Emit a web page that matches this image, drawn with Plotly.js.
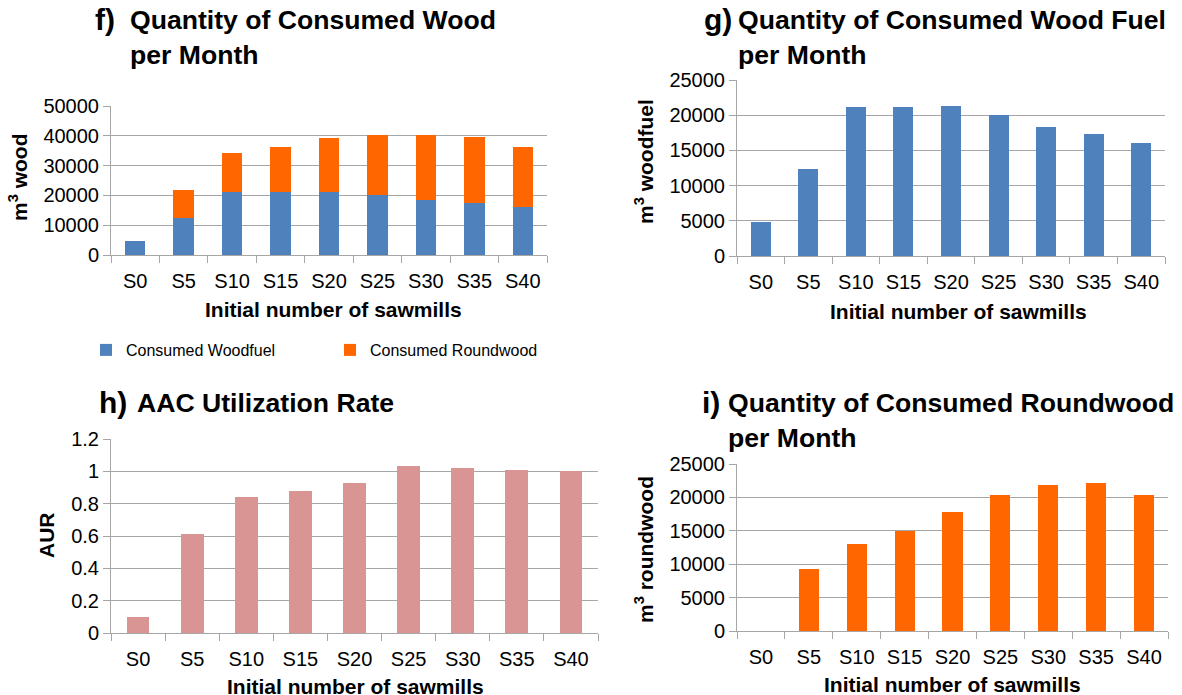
<!DOCTYPE html>
<html>
<head>
<meta charset="utf-8">
<script src="https://cdn.plot.ly/plotly-3.0.1.min.js"></script>
<style>html,body{margin:0;padding:0;background:#fff;}#chart{width:1182px;height:695px;}</style>
</head>
<body>
<div id="chart"></div>
<script>
const categories = ['S0','S5','S10','S15','S20','S25','S30','S35','S40'];
const woodfuel = [4800,12400,21200,21100,21300,20100,18300,17400,16000];
const roundwood = [0,9300,13000,15000,17800,20300,21900,22100,20300];
const aur = [0.10,0.61,0.84,0.88,0.93,1.03,1.02,1.01,1.00];

const W = 1182, H = 695;
const px = v => v / W;
const py = v => (H - v) / H;

const BLUE = '#4F81BD', ORANGE = '#FF6600', PINK = '#D99594';
const GRID = '#A6A6A6';
const FONT = 'Liberation Sans, Arial, sans-serif';
const BW = 0.42;
const TICKSIZE = 20;

const traces = [
  {type:'bar', x:categories, y:woodfuel, name:'Consumed Woodfuel', xaxis:'x', yaxis:'y',
   marker:{color:BLUE, line:{width:0}}, width:BW},
  {type:'bar', x:categories, y:roundwood, name:'Consumed Roundwood', xaxis:'x', yaxis:'y',
   marker:{color:ORANGE, line:{width:0}}, width:BW},
  {type:'bar', x:categories, y:woodfuel, showlegend:false, xaxis:'x2', yaxis:'y2',
   marker:{color:BLUE, line:{width:0}}, width:BW},
  {type:'bar', x:categories, y:aur, showlegend:false, xaxis:'x3', yaxis:'y3',
   marker:{color:PINK, line:{width:0}}, width:BW},
  {type:'bar', x:categories, y:roundwood, showlegend:false, xaxis:'x4', yaxis:'y4',
   marker:{color:ORANGE, line:{width:0}}, width:BW}
];

function xax(d0, d1, anchor){
  return {domain:[px(d0), px(d1)], anchor:anchor, type:'category', showline:true, linecolor:GRID, linewidth:1,
    ticks:'outside', tickson:'boundaries', ticklen:7, tickcolor:GRID, tickwidth:1, ticklabelstandoff:8,
    showgrid:false, zeroline:false, tickfont:{family:FONT, size:TICKSIZE, color:'#000'}, fixedrange:true};
}
function yax(top, bot, anchor, range, dtick, fmt){
  return {domain:[py(bot), py(top)], anchor:anchor, range:range, dtick:dtick, tickformat:fmt,
    showline:true, linecolor:GRID, linewidth:1, ticks:'outside', ticklen:7, tickcolor:GRID,
    showgrid:true, gridcolor:GRID, gridwidth:1, zeroline:false,
    tickfont:{family:FONT, size:TICKSIZE, color:'#000'}, fixedrange:true};
}

const ann = [];
function title(letterX, textX, y, letter, text){
  ann.push({xref:'paper', yref:'paper', x:px(letterX), y:py(y), xanchor:'left', yanchor:'top', showarrow:false,
    text:'<b>'+letter+'</b>', font:{family:FONT, size:30, color:'#000'}});
  ann.push({xref:'paper', yref:'paper', x:px(textX), y:py(y+2), xanchor:'left', yanchor:'top', showarrow:false, align:'left',
    text:text, font:{family:FONT, size:26.6, color:'#000'}});
}
title(93, 128, 1, 'f)', '<b>Quantity of Consumed Wood<br>per Month</b>');
title(702, 736, 1, 'g)', '<b>Quantity of Consumed Wood Fuel<br>per Month</b>');
title(97, 135, 384, 'h)', '<b>AAC Utilization Rate</b>');
title(700, 726, 384, 'i)', '<b>Quantity of Consumed Roundwood<br>per Month</b>');

function xtitle(cx, cy){
  ann.push({xref:'paper', yref:'paper', x:px(cx), y:py(cy), xanchor:'center', yanchor:'middle', showarrow:false,
    text:'<b>Initial number of sawmills</b>', font:{family:FONT, size:21, color:'#000'}});
}
xtitle(333, 309); xtitle(958, 311); xtitle(355, 686); xtitle(952, 684);

function ytitle(cx, cy, text){
  ann.push({xref:'paper', yref:'paper', x:px(cx), y:py(cy), xanchor:'center', yanchor:'middle', showarrow:false,
    textangle:-90, text:text, font:{family:FONT, size:21, color:'#000'}});
}
ytitle(18, 177, '<b>m<sup>3</sup> wood</b>');
ytitle(644, 162, '<b>m<sup>3</sup> woodfuel</b>');
ytitle(46, 535, '<b>AUR</b>');
ytitle(644, 550, '<b>m<sup>3</sup> roundwood</b>');

const layout = {
  width:W, height:H, margin:{l:0, r:0, t:0, b:0}, paper_bgcolor:'#fff', plot_bgcolor:'rgba(0,0,0,0)',
  barmode:'stack', showlegend:true,
  legend:{orientation:'h', x:px(86), y:py(333), xanchor:'left', yanchor:'top', traceorder:'normal',
    entrywidth:199, entrywidthmode:'pixels', font:{family:FONT, size:16, color:'#000'}, bgcolor:'rgba(0,0,0,0)'},
  xaxis: xax(111, 547, 'y'),
  yaxis: yax(106, 255, 'x', [0, 50000], 10000, 'd'),
  xaxis2: xax(737, 1165, 'y2'),
  yaxis2: yax(80, 256, 'x2', [0, 25000], 5000, 'd'),
  xaxis3: xax(111, 598, 'y3'),
  yaxis3: yax(439, 633, 'x3', [0, 1.2], 0.2, ''),
  xaxis4: xax(737, 1168, 'y4'),
  yaxis4: yax(464, 631, 'x4', [0, 25000], 5000, 'd'),
  annotations: ann
};

Plotly.newPlot('chart', traces, layout, {displayModeBar:false, staticPlot:true});
</script>
</body>
</html>
